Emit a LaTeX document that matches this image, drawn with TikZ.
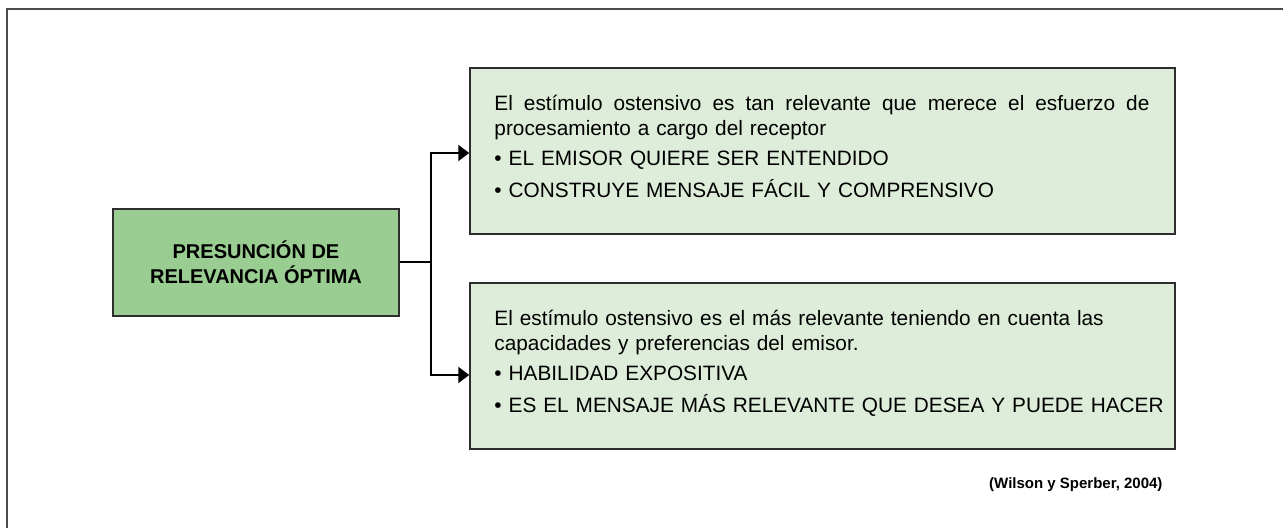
\documentclass[tikz,border=0pt]{standalone}
\usepackage{fontspec}
\setmainfont{Liberation Sans}
\usetikzlibrary{positioning, arrows.meta}
\definecolor{frame}{RGB}{75, 75, 75}
\definecolor{edge}{RGB}{45, 45, 45}
\definecolor{mainfill}{RGB}{153, 205, 145}
\definecolor{lightfill}{RGB}{221, 237, 218}

\tikzset{
  mainbox/.style={draw=edge, fill=mainfill, line width=1.5pt, minimum width=286pt,
                  minimum height=107pt, align=center,
                  font=\fontsize{20}{25}\selectfont\bfseries},
  infobox/.style={draw=edge, fill=lightfill, line width=1.5pt, minimum width=705pt,
                  minimum height=166pt},
  infotext/.style={anchor=north west, inner sep=0pt, text width=680pt, align=left,
                   font=\fontsize{20.8}{25}\selectfont},
  link/.style={line width=2pt, -{Triangle[length=11pt, width=16pt]}}
}

\begin{document}
\begin{tikzpicture}[x=1pt, y=1pt]
  \useasboundingbox (0, 0) rectangle (1283, 528);
  \draw[frame, line width=1.7pt] (7, 0) -- (7, 519) -- (1283, 519);

  % boxes
  \node[mainbox] (presuncion) at (256, 265.5) {PRESUNCIÓN DE\\RELEVANCIA ÓPTIMA};
  \node[infobox] (esfuerzo) at (822.5, 377) {};
  \node[infobox] (capacidad) at (822.5, 162) {};

  % texts
  \node[infotext] (esfuerzotxt) at ([xshift=25pt, yshift=-28pt]esfuerzo.north west)
    {\makebox[655pt][s]{\spaceskip=.278em plus 2em\relax
       El estímulo ostensivo es tan relevante que merece el esfuerzo de}\\
     procesamiento a cargo del receptor\\[5pt]
     • EL EMISOR QUIERE SER ENTENDIDO\\[7pt]
     • CONSTRUYE MENSAJE FÁCIL Y COMPRENSIVO};
  \node[infotext] (capacidadtxt) at ([xshift=25pt, yshift=-28pt]capacidad.north west)
    {El estímulo ostensivo es el más relevante teniendo en cuenta las\\
     capacidades y preferencias del emisor.\\[5pt]
     • HABILIDAD EXPOSITIVA\\[7pt]
     • ES EL MENSAJE MÁS RELEVANTE QUE DESEA Y PUEDE HACER};

  \node[anchor=east, font=\fontsize{15}{18}\selectfont\bfseries] (cita) at (1166, 43)
    {(Wilson y Sperber, 2004)};

  % connectors
  \coordinate (split) at (431, 265.5);
  \draw[line width=2pt] (presuncion.east) -- (split);
  \draw[link] (split) |- ([yshift=-2pt]esfuerzo.west);
  \draw[link] (split) |- ([yshift=-9pt]capacidad.west);
\end{tikzpicture}
\end{document}
